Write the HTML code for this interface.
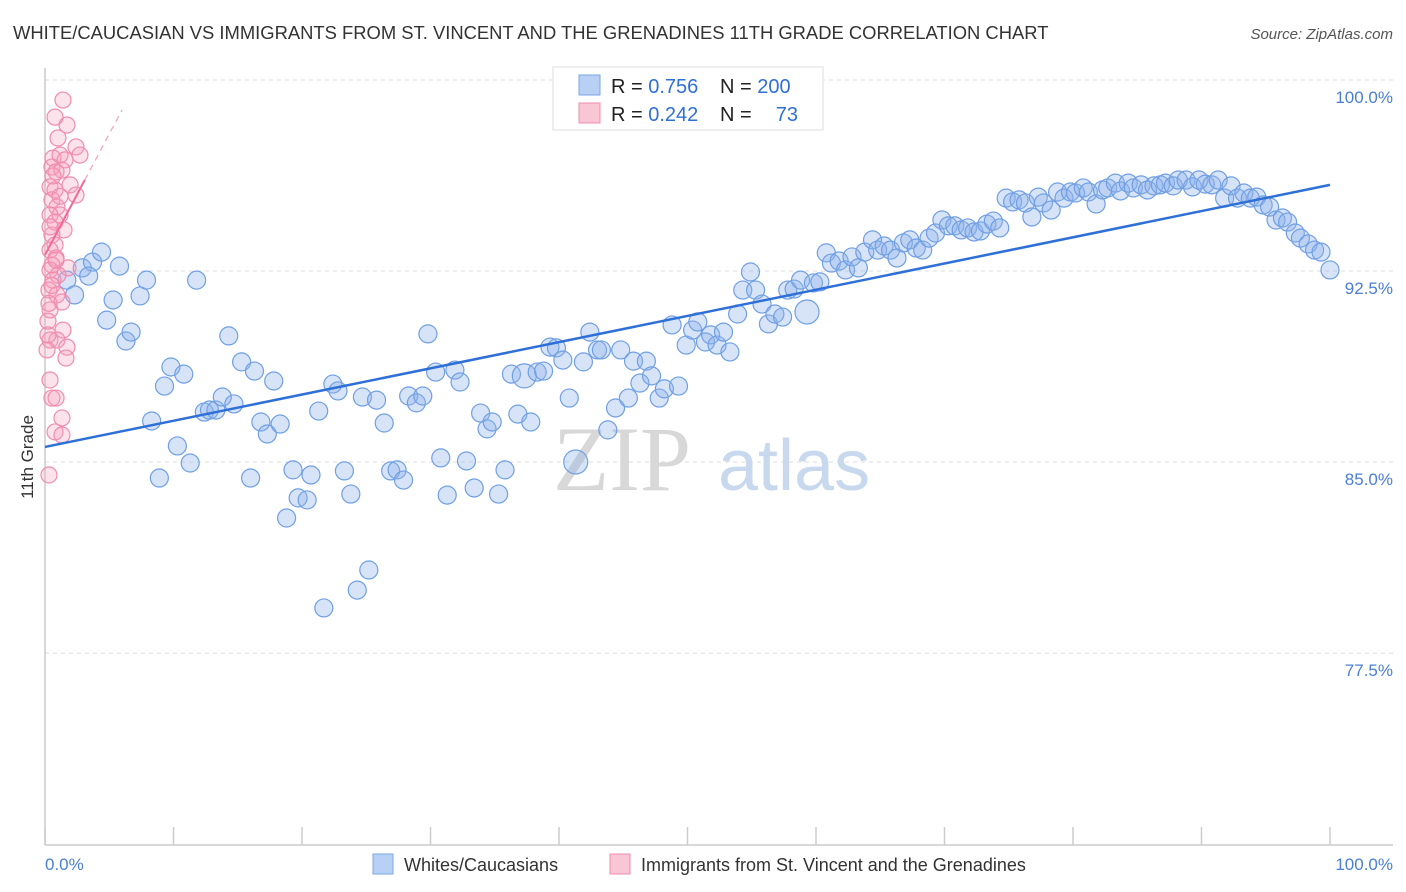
<!DOCTYPE html>
<html><head><meta charset="utf-8">
<style>
body{margin:0;background:#fff;font-family:"Liberation Sans",sans-serif;}
svg{display:block}
</style></head>
<body>
<svg id="chart" width="1406" height="892" viewBox="0 0 1406 892" xmlns="http://www.w3.org/2000/svg">
<text x="13" y="39" font-size="18.4" fill="#333" font-family="Liberation Sans, sans-serif">WHITE/CAUCASIAN VS IMMIGRANTS FROM ST. VINCENT AND THE GRENADINES 11TH GRADE CORRELATION CHART</text>
<text x="1393" y="39" font-size="15" fill="#555" font-style="italic" text-anchor="end">Source: ZipAtlas.com</text>
<g id="grid"></g>
<g>
<text x="553" y="490" font-size="92" fill="#d8d8d8" font-family="Liberation Serif, serif">ZIP</text>
<text x="718" y="490" font-size="72" fill="#c8d8ee" font-family="Liberation Sans, sans-serif">atlas</text>
</g>
<line x1="45" y1="68" x2="45" y2="845" stroke="#ccc" stroke-width="1.5"/>
<line x1="45" y1="845" x2="1393" y2="845" stroke="#ccc" stroke-width="1.5"/>
<g id="xticks"></g>
<g id="pts"></g>
<g id="lines"></g>
<text transform="translate(33,457) rotate(-90)" font-size="17" fill="#333" text-anchor="middle">11th Grade</text>
<text x="45" y="870" font-size="17" fill="#4a7fd4">0.0%</text>
<text x="1393" y="870" font-size="17" fill="#4a7fd4" text-anchor="end">100.0%</text>
<g>
<rect x="553" y="67" width="270" height="63" fill="#fff" stroke="#ddd"/>
<rect x="579" y="75" width="21" height="20" fill="#b8d0f4" stroke="#7aa6e6"/>
<rect x="579" y="103" width="21" height="20" fill="#f9c6d6" stroke="#f08cad"/>
<text x="611" y="93" font-size="20" fill="#222">R = <tspan fill="#2f6fd6">0.756</tspan></text>
<text x="720" y="93" font-size="20" fill="#222">N = <tspan fill="#2f6fd6">200</tspan></text>
<text x="611" y="121" font-size="20" fill="#222">R = <tspan fill="#2f6fd6">0.242</tspan></text>
<text x="720" y="121" font-size="20" fill="#222">N = </text>
<text x="798" y="121" font-size="20" fill="#2f6fd6" text-anchor="end">73</text>
</g>
<g>
<rect x="373" y="854" width="20" height="20" fill="#b8d0f4" stroke="#7aa6e6"/>
<text x="404" y="871" font-size="18" fill="#333">Whites/Caucasians</text>
<rect x="610" y="854" width="20" height="20" fill="#f9c6d6" stroke="#f08cad"/>
<text x="641" y="871" font-size="18" fill="#333">Immigrants from St. Vincent and the Grenadines</text>
</g>
</svg>
<script>
const yTicks=[100,92.5,85,77.5];
const yTickLabels=["100.0%","92.5%","85.0%","77.5%"];
const xTicks=[0,10,20,30,40,50,60,70,80,90,100];
const blueX=[1.7,2.9,3.7,4.4,2.3,3.4,4.8,5.3,5.8,6.3,6.7,7.4,7.9,8.3,8.9,9.3,9.8,10.3,10.8,11.3,11.8,12.4,12.8,13.3,13.8,14.3,14.7,15.3,16.0,16.3,16.8,17.3,17.8,18.3,18.8,19.3,19.7,20.4,20.7,21.3,21.7,22.4,22.8,23.3,23.8,24.3,24.7,25.2,25.8,26.4,26.9,27.4,27.9,28.3,28.9,29.4,29.8,30.4,30.8,31.3,31.9,32.3,32.8,33.4,33.9,34.4,34.8,35.3,35.8,36.3,36.8,37.3,37.8,38.3,38.8,39.3,39.8,40.3,40.8,41.3,41.9,42.4,43.0,43.3,43.8,44.4,44.8,45.4,45.8,46.3,46.8,47.2,47.8,48.2,48.8,49.3,49.9,50.4,50.8,51.4,51.8,52.3,52.8,53.3,53.9,54.3,54.9,55.3,55.8,56.3,56.8,57.4,57.8,58.3,58.8,59.3,59.8,60.3,60.8,61.2,61.8,62.3,62.8,63.3,63.8,64.4,64.8,65.3,65.8,66.3,66.8,67.3,67.8,68.3,68.8,69.3,69.8,70.3,70.8,71.3,71.8,72.3,72.8,73.3,73.8,74.3,74.8,75.3,75.8,76.3,76.8,77.3,77.7,78.3,78.8,79.3,79.8,80.2,80.8,81.2,81.8,82.3,82.7,83.3,83.7,84.3,84.7,85.3,85.8,86.3,86.8,87.2,87.8,88.2,88.8,89.3,89.8,90.3,90.8,91.3,91.8,92.3,92.8,93.3,93.8,94.3,94.8,95.3,95.8,96.3,96.7,97.3,97.7,98.3,98.8,99.3,100];
const blueY=[92.81,93.29,93.52,93.91,92.23,92.97,91.24,92.03,93.36,90.42,90.77,92.19,92.81,87.28,85.04,88.65,89.40,86.30,89.12,85.63,92.81,87.63,87.71,87.71,88.22,90.62,87.95,89.60,85.04,89.24,87.24,86.77,88.85,87.16,83.47,85.36,84.26,84.18,85.16,87.67,79.94,88.73,88.46,85.32,84.41,80.64,88.22,81.43,88.10,87.20,85.32,85.36,84.96,88.26,87.99,88.26,90.70,89.20,85.83,84.37,89.28,88.81,85.71,84.65,87.59,86.97,87.24,84.41,85.36,89.12,87.55,89.05,87.24,89.20,89.24,90.18,90.15,89.67,88.18,85.67,89.60,90.77,90.07,90.07,86.93,87.79,90.07,88.18,89.63,88.77,89.63,89.05,88.18,88.54,91.05,88.65,90.26,90.85,91.17,90.38,90.66,90.26,90.77,89.99,91.48,92.42,93.13,92.42,91.87,91.09,91.48,91.36,92.42,92.46,92.81,91.56,92.70,92.74,93.88,93.48,93.56,93.21,93.72,93.29,93.91,94.39,93.99,94.15,93.99,93.68,94.27,94.39,94.07,93.99,94.46,94.66,95.17,94.94,94.94,94.78,94.86,94.70,94.74,95.01,95.13,94.86,96.03,95.88,95.96,95.84,95.29,96.07,95.84,95.56,96.27,96.03,96.27,96.23,96.43,96.27,95.80,96.35,96.43,96.62,96.31,96.62,96.43,96.55,96.35,96.51,96.55,96.62,96.51,96.74,96.74,96.47,96.74,96.58,96.55,96.74,96.03,96.51,96.03,96.23,96.03,96.07,95.76,95.68,95.17,95.25,95.09,94.66,94.46,94.23,93.99,93.91,93.21];
const blueBig=[37.3,59.3,41.3];
const pinkX=[1.40,1.71,0.78,1.01,2.41,2.72,0.62,1.17,1.56,0.54,0.86,1.32,1.95,0.39,0.78,2.41,0.54,0.93,1.17,0.39,0.78,1.48,0.54,0.78,0.39,0.86,0.54,1.79,0.39,1.01,0.62,0.31,0.93,1.32,0.39,1.40,0.39,0.93,1.71,1.63,0.39,0.54,0.86,1.32,0.78,1.32,0.31,0.16,0.23,0.62,1.17,0.39,0.86,0.54,0.31,0.23];
const pinkY=[99.88,98.90,99.21,98.39,98.04,97.72,97.60,97.72,97.53,97.25,97.06,97.13,96.55,96.47,96.35,96.15,95.96,95.68,95.37,95.37,95.09,94.78,94.58,94.19,93.99,93.68,93.40,93.29,93.21,93.01,92.81,92.42,92.23,91.95,91.64,90.85,90.46,90.46,90.18,89.75,88.89,88.18,88.18,87.40,86.85,86.73,85.16,90.07,90.66,96.90,96.10,94.90,93.60,92.60,91.90,91.20];
const blueLine=[86.26,96.55];
const pinkLine={b:93.8,m:0.95};
const S="http://www.w3.org/2000/svg";
const xS=v=>45+v*12.85;
const yS=v=>97+(100-v)*25.47;
const grid=document.getElementById('grid');
yTicks.forEach((t,i)=>{
 const py=yS(t)-17;
 const l=document.createElementNS(S,'line');
 
 
 l.setAttribute('x1',45);l.setAttribute('x2',1393);l.setAttribute('y1',py);l.setAttribute('y2',py);
 l.setAttribute('stroke','#ddd');l.setAttribute('stroke-dasharray','4,4');
 grid.appendChild(l);
 const tx=document.createElementNS(S,'text');
 
 
 tx.setAttribute('x',1393);tx.setAttribute('y',yS(t)+6);tx.setAttribute('text-anchor','end');
 tx.setAttribute('font-size','17');tx.setAttribute('fill','#4a7fd4');
 tx.textContent=yTickLabels[i];grid.appendChild(tx);
});
const xt=document.getElementById('xticks');
xTicks.forEach(t=>{
 const l=document.createElementNS(S,'line');
 
 
 l.setAttribute('x1',xS(t));l.setAttribute('x2',xS(t));l.setAttribute('y1',827);l.setAttribute('y2',845);
 l.setAttribute('stroke','#ccc');l.setAttribute('stroke-width','1.5');xt.appendChild(l);
});
const pts=document.getElementById('pts');
blueX.forEach((x,i)=>{
 const c=document.createElementNS(S,'circle');
 
 
 c.setAttribute('cx',xS(x));c.setAttribute('cy',yS(blueY[i]));
 c.setAttribute('r',blueBig.includes(x)?12:9);
 c.setAttribute('fill','rgba(140,178,236,0.35)');c.setAttribute('stroke','#6f9fe4');c.setAttribute('stroke-width','1.2');
 pts.appendChild(c);
});
pinkX.forEach((x,i)=>{
 const c=document.createElementNS(S,'circle');
 
 
 c.setAttribute('cx',xS(x));c.setAttribute('cy',yS(pinkY[i]));
 c.setAttribute('r',8);
 c.setAttribute('fill','rgba(244,160,190,0.3)');c.setAttribute('stroke','#f08cad');c.setAttribute('stroke-width','1.2');
 pts.appendChild(c);
});
const lg=document.getElementById('lines');
const bl=document.createElementNS(S,'line');


bl.setAttribute('x1',xS(0));bl.setAttribute('y1',yS(blueLine[0]));bl.setAttribute('x2',xS(100));bl.setAttribute('y2',yS(blueLine[1]));
bl.setAttribute('stroke','#2e6fd8');bl.setAttribute('stroke-width','2.5');lg.appendChild(bl);
const pl=document.createElementNS(S,'line');


pl.setAttribute('x1',xS(0));pl.setAttribute('y1',yS(pinkLine.b));pl.setAttribute('x2',xS(3.1));pl.setAttribute('y2',yS(pinkLine.b+pinkLine.m*3.1));
pl.setAttribute('stroke','#f06a98');pl.setAttribute('stroke-width','2');lg.appendChild(pl);
const pd=document.createElementNS(S,'line');


pd.setAttribute('x1',xS(3.1));pd.setAttribute('y1',yS(pinkLine.b+pinkLine.m*3.1));pd.setAttribute('x2',xS(6.0));pd.setAttribute('y2',yS(pinkLine.b+pinkLine.m*6.0));
pd.setAttribute('stroke','#f4a0bc');pd.setAttribute('stroke-width','1.2');pd.setAttribute('stroke-dasharray','6,5');lg.appendChild(pd);
</script>
</body></html>
